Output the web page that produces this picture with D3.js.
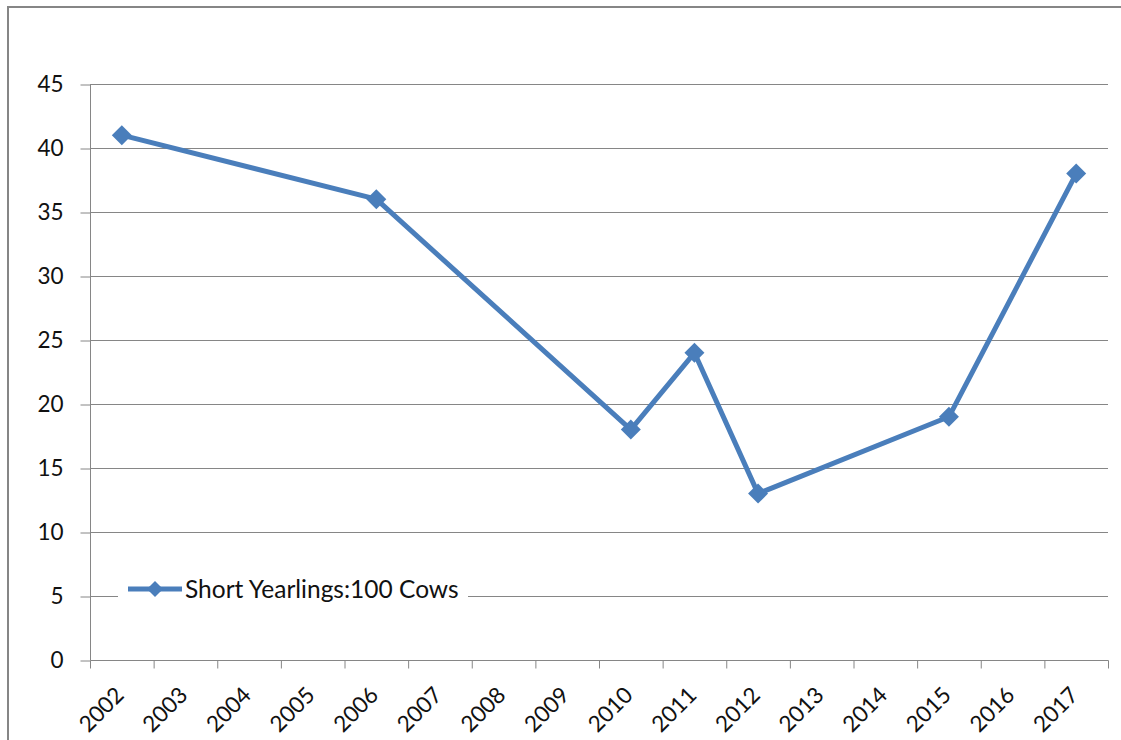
<!DOCTYPE html>
<html><head><meta charset="utf-8">
<script src="https://cdn.jsdelivr.net/npm/d3@7"></script>
<style>html,body{margin:0;padding:0;background:#fff;}svg{display:block;}</style>
</head><body>
<svg id="c" width="1121" height="740"></svg>
<script>
const years = ["2002","2003","2004","2005","2006","2007","2008","2009","2010","2011","2012","2013","2014","2015","2016","2017"];
const pointYears = ["2002","2006","2010","2011","2012","2015","2017"];
const pointValues = [41, 36, 18, 24, 13, 19, 38];
const yTicks = [0,5,10,15,20,25,30,35,40,45];
const seriesName = "Short Yearlings:100 Cows";

const svg = d3.select("#c");
const font = "Lato, 'Open Sans', sans-serif";
const fs = 22.5;
const gray = "#868686";
const blue = "#4A7EBB";
const m = {left: 90, right: 1108, top: 84, bottom: 660};

// outer border
svg.append("path").attr("d", `M8,741 V7 H1122`).attr("fill","none").attr("stroke", gray).attr("stroke-width", 2);

const x = d3.scaleBand().domain(years).range([m.left, m.right]).padding(0);
const y = d3.scaleLinear().domain([0,45]).range([m.bottom, m.top]);

// gridlines
svg.append("g").selectAll("line").data(yTicks.filter(d=>d>0)).join("line")
  .attr("x1", m.left).attr("x2", m.right)
  .attr("y1", d=>y(d)+0.5).attr("y2", d=>y(d)+0.5)
  .attr("stroke", gray).attr("stroke-width", 1);

// y axis
const ya = svg.append("g").attr("transform", `translate(${m.left+0.5},0.5)`)
  .call(d3.axisLeft(y).tickValues(yTicks).tickSize(10).tickPadding(17));
ya.select(".domain").attr("stroke", gray).attr("d", `M0,${m.top}V${m.bottom}`);
ya.selectAll(".tick line").attr("stroke", gray);
ya.selectAll(".tick text").attr("font-family", font).attr("font-size", fs).attr("fill", "#111");

// x axis
const xa = svg.append("g").attr("transform", `translate(0.5,${m.bottom+0.5})`);
xa.append("line").attr("x1", m.left).attr("x2", m.right).attr("stroke", gray);
const bounds = years.map(d=>x(d)).concat([m.right]);
xa.selectAll(".tk").data(bounds).join("line").attr("class","tk")
  .attr("x1", d=>d).attr("x2", d=>d).attr("y1", 0).attr("y2", 8).attr("stroke", gray);
xa.selectAll("text").data(years).join("text")
  .attr("transform", d=>`translate(${x(d)+x.bandwidth()/2+3},${36}) rotate(-45)`)
  .attr("text-anchor","end")
  .attr("font-family", font).attr("font-size", fs).attr("fill","#111")
  .text(d=>d);

// line
const pts = pointYears.map((d,i)=>({yr:d, v:pointValues[i]}));
const line = d3.line().x(d=>x(d.yr)+x.bandwidth()/2).y(d=>y(d.v));
svg.append("path").datum(pts).attr("d", line).attr("fill","none")
  .attr("stroke", blue).attr("stroke-width", 5).attr("stroke-linejoin","round");
svg.append("g").selectAll("path").data(pts).join("path")
  .attr("transform", d=>`translate(${x(d.yr)+x.bandwidth()/2},${y(d.v)}) rotate(45)`)
  .attr("d", d3.symbol().type(d3.symbolSquare).size(200))
  .attr("fill", blue);

// legend
const lg = svg.append("g");
lg.append("rect").attr("x", 118).attr("y", 575).attr("width", 350).attr("height", 30).attr("fill","#fff");
lg.append("line").attr("x1",128).attr("x2",182).attr("y1",589).attr("y2",589).attr("stroke",blue).attr("stroke-width",5);
lg.append("path").attr("transform","translate(155,589) rotate(45)").attr("d", d3.symbol().type(d3.symbolSquare).size(130)).attr("fill",blue);
lg.append("text").attr("x",185).attr("y",589).attr("dy","0.35em")
  .attr("font-family", font).attr("font-size", 24.5).attr("fill","#111").text(seriesName);
</script>
</body></html>
